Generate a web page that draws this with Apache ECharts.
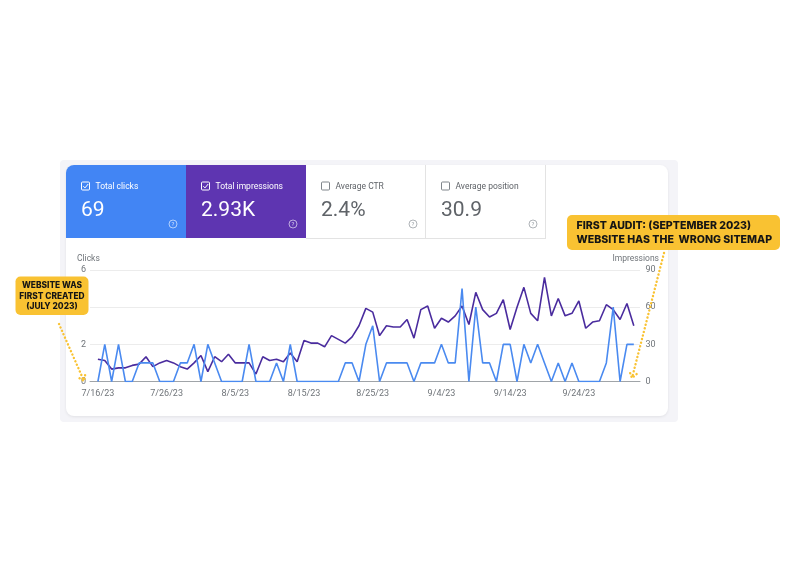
<!DOCTYPE html>
<html>
<head>
<meta charset="utf-8">
<script src="https://cdn.jsdelivr.net/npm/echarts@6/dist/echarts.min.js"></script>
<style>
html,body{margin:0;padding:0;background:#fff;}
#chart{width:792px;height:585px;}
</style>
</head>
<body>
<div id="chart"></div>
<script>
// ---- data ----
var dates = [
 '7/16/23','7/17/23','7/18/23','7/19/23','7/20/23','7/21/23','7/22/23','7/23/23','7/24/23','7/25/23',
 '7/26/23','7/27/23','7/28/23','7/29/23','7/30/23','7/31/23','8/1/23','8/2/23','8/3/23','8/4/23',
 '8/5/23','8/6/23','8/7/23','8/8/23','8/9/23','8/10/23','8/11/23','8/12/23','8/13/23','8/14/23',
 '8/15/23','8/16/23','8/17/23','8/18/23','8/19/23','8/20/23','8/21/23','8/22/23','8/23/23','8/24/23',
 '8/25/23','8/26/23','8/27/23','8/28/23','8/29/23','8/30/23','8/31/23','9/1/23','9/2/23','9/3/23',
 '9/4/23','9/5/23','9/6/23','9/7/23','9/8/23','9/9/23','9/10/23','9/11/23','9/12/23','9/13/23',
 '9/14/23','9/15/23','9/16/23','9/17/23','9/18/23','9/19/23','9/20/23','9/21/23','9/22/23','9/23/23',
 '9/24/23','9/25/23','9/26/23','9/27/23','9/28/23','9/29/23','9/30/23','10/1/23','10/2/23'
];
var clicks = [
 0,2,0,2,0,0,1,1,1,0,0,0,
 1,1,2,0,2,1,0,0,0,0,2,0,0,0,1,0,2,0,
 0,0,0,0,0,0,
 1,1,0,2,3,0,1,1,1,1,0,1,1,1,2,1,1,
 5,0,4,1,1,0,2,2,0,2,1,2,1,0,1,0,1,0,0,0,0,1,4,0,2,2
];
var impressions = [
 18,17,10,11,11,13,14,20,12,15,17,15,
 12,10,15,21,8,20,16,22,15,15,15,6,20,
 17,18,16,23,16,
 33,31,31,28,37,34,31,36,
 45,59,56,37,45,44,44,50,35,58,61,43,51,48,53,61,46,
 72,58,52,55,66,42,60,76,55,49,84,53,67,53,55,65,43,48,49,62,58,50,63,45
];
var xTickLabels = ['7/16/23','7/26/23','8/5/23','8/15/23','8/25/23','9/4/23','9/14/23','9/24/23'];
var clickTicks = [0, 2, 4, 6];
var impressionTicks = [0, 30, 60, 90];
var axisNames = ['Clicks', 'Impressions'];
var tiles = [
  {label: 'Total clicks', value: '69', checked: true},
  {label: 'Total impressions', value: '2.93K', checked: true},
  {label: 'Average CTR', value: '2.4%', checked: false},
  {label: 'Average position', value: '30.9', checked: false}
];
var noteLeft = ['WEBSITE WAS', 'FIRST CREATED', '(JULY 2023)'];
var noteRight = ['FIRST AUDIT: (SEPTEMBER 2023)', 'WEBSITE HAS THE  WRONG SITEMAP'];

// ---- build ----
var chart = echarts.init(document.getElementById('chart'), null, {renderer: 'canvas'});
var FONT = 'Roboto, "Noto Sans", sans-serif';
var NOTE_FONT = 'Inter, "Open Sans", sans-serif';
var YELLOW = '#f9c232';
var GREY = '#70757a';

var tileColors = ['#4285f4', '#5e35b1', '#ffffff', '#ffffff'];
var g = [];
// outer frame + card
g.push({type: 'rect', z: -20, shape: {x: 60, y: 160, width: 618, height: 262, r: 4}, style: {fill: '#f4f4f8'}});
g.push({type: 'rect', z: -19, shape: {x: 66, y: 165, width: 602, height: 251, r: 8},
  style: {fill: '#ffffff', shadowBlur: 3, shadowColor: 'rgba(0,0,0,0.08)', shadowOffsetY: 1}});
tiles.forEach(function (t, k) {
  var x0 = 66 + k * 120;
  var dark = k < 2;
  g.push({type: 'rect', z: -18, shape: {x: x0, y: 165, width: 120, height: 73, r: k === 0 ? [8, 0, 0, 0] : 0},
    style: {fill: tileColors[k]}});
  var fg = dark ? '#ffffff' : '#5f6368';
  var boxCol = dark ? '#ffffff' : '#80868b';
  g.push({type: 'rect', z: 10, shape: {x: x0 + 15.5, y: 182, width: 8, height: 8, r: 1},
    style: {fill: 'none', stroke: boxCol, lineWidth: 1}});
  if (t.checked) {
    g.push({type: 'polyline', z: 10, shape: {points: [[x0 + 17.3, 186.2], [x0 + 19, 187.9], [x0 + 22.2, 184]]},
      style: {fill: 'none', stroke: '#ffffff', lineWidth: 1}});
  }
  g.push({type: 'text', z: 10, x: x0 + 29.5, y: 186.5, style: {text: t.label, fill: fg, font: '8.5px ' + FONT,
    textVerticalAlign: 'middle', verticalAlign: 'middle'}});
  g.push({type: 'text', z: 10, x: x0 + 15, y: 211, style: {text: t.value, fill: fg, font: '21px ' + FONT,
    textVerticalAlign: 'middle', verticalAlign: 'middle'}});
  var qc = dark ? 'rgba(255,255,255,0.75)' : '#9aa0a6';
  g.push({type: 'circle', z: 10, shape: {cx: x0 + 107, cy: 224, r: 4}, style: {fill: 'none', stroke: qc, lineWidth: 0.8}});
  g.push({type: 'text', z: 10, x: x0 + 107, y: 224.3, style: {text: '?', fill: qc, font: '6px ' + FONT,
    align: 'center', verticalAlign: 'middle', textAlign: 'center', textVerticalAlign: 'middle'}});
});
// white tile borders
g.push({type: 'line', z: -17, shape: {x1: 306, y1: 238.5, x2: 546, y2: 238.5}, style: {stroke: '#e3e3e3', lineWidth: 1}});
g.push({type: 'line', z: -17, shape: {x1: 425.5, y1: 165, x2: 425.5, y2: 238}, style: {stroke: '#e3e3e3', lineWidth: 1}});
g.push({type: 'line', z: -17, shape: {x1: 545.5, y1: 165, x2: 545.5, y2: 238}, style: {stroke: '#e3e3e3', lineWidth: 1}});

// axis titles
g.push({type: 'text', z: 10, x: 77, y: 259, style: {text: axisNames[0], fill: GREY, font: '8.5px ' + FONT,
  verticalAlign: 'middle', textVerticalAlign: 'middle'}});
g.push({type: 'text', z: 10, x: 659, y: 259, style: {text: axisNames[1], fill: GREY, font: '8.5px ' + FONT,
  align: 'right', textAlign: 'right', verticalAlign: 'middle', textVerticalAlign: 'middle'}});

// annotations
g.push({type: 'rect', z: 50, shape: {x: 15.5, y: 276.5, width: 73, height: 38.5, r: 5}, style: {fill: YELLOW}});
noteLeft.forEach(function (s, k) {
  g.push({type: 'text', z: 51, x: 52, y: 285.5 + k * 10.5, style: {text: s, fill: '#151515',
    font: '800 8.4px ' + NOTE_FONT, align: 'center', verticalAlign: 'middle', textAlign: 'center', textVerticalAlign: 'middle'}});
});
g.push({type: 'rect', z: 50, shape: {x: 567, y: 215, width: 213, height: 35, r: 5}, style: {fill: YELLOW}});
noteRight.forEach(function (s, k) {
  g.push({type: 'text', z: 51, x: 576.5, y: 225.5 + k * 14.5, style: {text: s, fill: '#151515',
    font: '800 10.6px ' + NOTE_FONT, verticalAlign: 'middle', textVerticalAlign: 'middle'}});
});
var dotStyle = {fill: 'none', stroke: YELLOW, lineWidth: 2.4, lineDash: [0.1, 3.6], lineCap: 'round'};
g.push({type: 'polyline', z: 52, shape: {points: [[59, 324], [84, 381]]}, style: dotStyle});
g.push({type: 'polyline', z: 52, shape: {points: [[85.1, 375.1], [84, 381], [78.9, 377.9]]}, style: dotStyle});
g.push({type: 'polyline', z: 52, shape: {points: [[664, 253], [632, 378]]}, style: dotStyle});
g.push({type: 'polyline', z: 52, shape: {points: [[636.6, 374.1], [632, 378], [629.9, 372.4]]}, style: dotStyle});

var xTickIdx = xTickLabels.map(function (s) { return dates.indexOf(s); });

var option = {
  backgroundColor: '#ffffff',
  animation: false,
  textStyle: {fontFamily: FONT},
  grid: {left: 90, right: 152, top: 270, bottom: 203.5, containLabel: false},
  xAxis: {
    type: 'value', min: -1.15, max: 78.9,
    splitLine: {show: false},
    axisLine: {show: true, lineStyle: {color: '#a0a4a8', width: 1}},
    axisTick: {show: false},
    axisLabel: {customValues: xTickIdx, formatter: function (v) { return dates[Math.round(v)]; },
      color: GREY, fontSize: 9, margin: 8, fontFamily: FONT}
  },
  yAxis: [
    {type: 'value', min: clickTicks[0], max: clickTicks[clickTicks.length - 1], interval: clickTicks[1] - clickTicks[0],
      axisLine: {show: false}, axisTick: {show: false},
      axisLabel: {color: GREY, fontSize: 9, margin: 4, fontFamily: FONT},
      splitLine: {lineStyle: {color: '#ececec', width: 1}}},
    {type: 'value', min: impressionTicks[0], max: impressionTicks[impressionTicks.length - 1],
      interval: impressionTicks[1] - impressionTicks[0], position: 'right',
      axisLine: {show: false}, axisTick: {show: false},
      axisLabel: {color: GREY, fontSize: 9, margin: 5.5, fontFamily: FONT},
      splitLine: {show: false}}
  ],
  series: [
    {name: 'Impressions', type: 'line', yAxisIndex: 1, symbol: 'none',
      data: impressions.map(function (v, i) { return [i, v]; }),
      lineStyle: {color: '#4a2c9e', width: 1.6}, z: 3},
    {name: 'Clicks', type: 'line', yAxisIndex: 0, symbol: 'none',
      data: clicks.map(function (v, i) { return [i, v]; }),
      lineStyle: {color: '#4a8af0', width: 1.6}, z: 4}
  ],
  graphic: {elements: g}
};
chart.setOption(option);
</script>
</body>
</html>
